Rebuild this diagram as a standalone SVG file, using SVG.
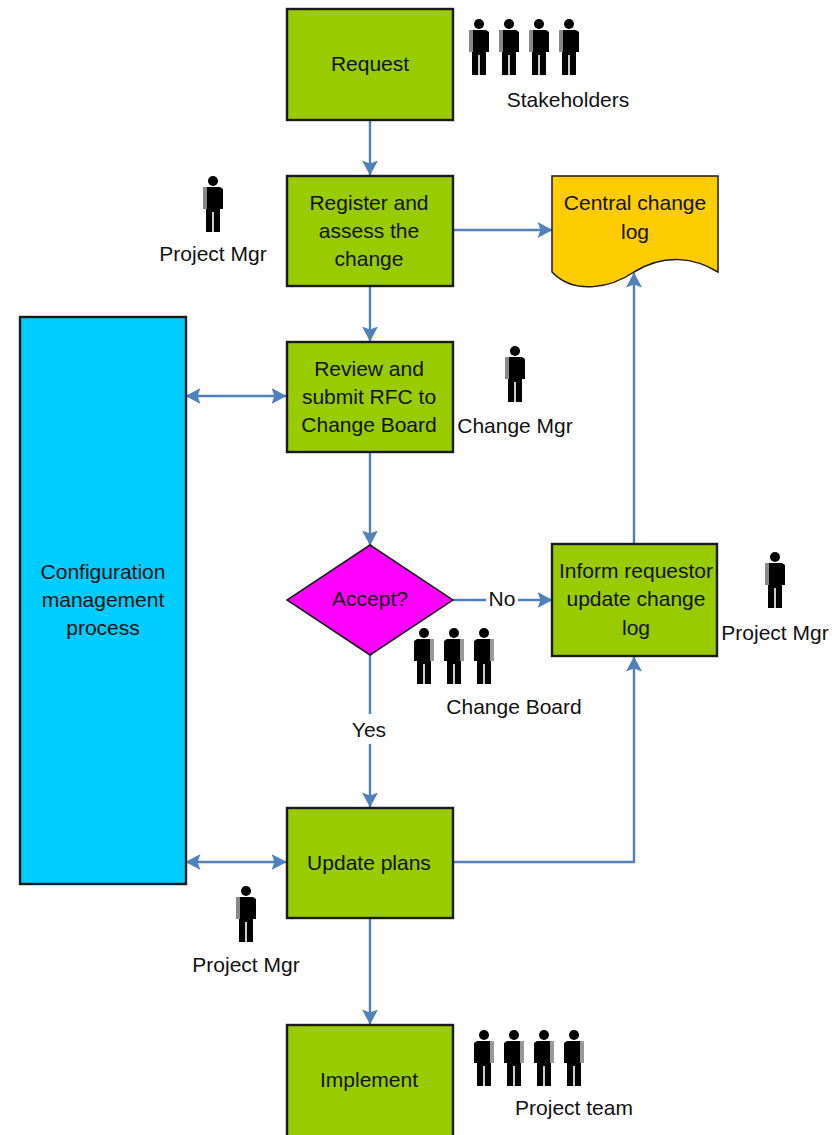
<svg xmlns="http://www.w3.org/2000/svg" width="837" height="1135" viewBox="0 0 837 1135">
<style>
text{font-family:"Liberation Sans",Arial,sans-serif;font-size:21px;fill:#111;text-anchor:middle}
.box{fill:#99cc00;stroke:#1a1a1a;stroke-width:2.4}
.cf{fill:none;stroke:#4f81bd;stroke-width:2.4}
.bg{fill:#fff}
</style>
<defs>
<marker id="arr" viewBox="0 0 15 16" refX="14.5" refY="8" markerWidth="15" markerHeight="16" markerUnits="userSpaceOnUse" orient="auto-start-reverse"><path d="M0 0L15 8L0 16L3 8Z" fill="#4f81bd"/></marker>
<g id="pR"><path d="M5 11H10V33H5Z" fill="#999"/><circle cx="0" cy="5" r="5" fill="#000"/><path d="M-10 13L-7 11H6V33H7V56H0.8V36H-0.8V56H-7V33H-10Z" fill="#000"/></g>
<g id="pL"><path d="M-10 11H-5V33H-10Z" fill="#888"/><circle cx="0" cy="5" r="5" fill="#000"/><path d="M-6 11H7L10 13V33H7V56H0.8V36H-0.8V56H-7V33H-6Z" fill="#000"/></g>
</defs>
<rect width="837" height="1135" fill="#fff"/>
<g id="connectors">
<path class="cf" d="M370 120V175" marker-end="url(#arr)"/>
<path class="cf" d="M370 286V341" marker-end="url(#arr)"/>
<path class="cf" d="M453 230H552" marker-end="url(#arr)"/>
<path class="cf" d="M186 396H286" marker-start="url(#arr)" marker-end="url(#arr)"/>
<path class="cf" d="M370 452V545" marker-end="url(#arr)"/>
<path class="cf" d="M453 600H552" marker-end="url(#arr)"/>
<path class="cf" d="M370 655V807" marker-end="url(#arr)"/>
<path class="cf" d="M634 544V273" marker-end="url(#arr)"/>
<path class="cf" d="M453 862H634V657" marker-end="url(#arr)"/>
<path class="cf" d="M186 862H286" marker-start="url(#arr)" marker-end="url(#arr)"/>
<path class="cf" d="M370 918V1024" marker-end="url(#arr)"/>
<rect class="bg" x="486" y="586" width="32" height="28"/>
<rect class="bg" x="348" y="714" width="44" height="30"/>
<text x="502" y="606">No</text>
<text x="369" y="737">Yes</text>
</g>
<g id="request"><rect class="box" x="287" y="9" width="166" height="111"/><text x="370" y="71">Request</text></g>
<g id="register"><rect class="box" x="287" y="176" width="166" height="110"/><text x="369" y="210">Register and</text><text x="369" y="238">assess the</text><text x="369" y="266">change</text></g>
<g id="log"><path d="M552 176H718V272C695 258 665 253 634 272C612 287 575 296 552 272Z" fill="#ffcc00" stroke="#1a1a1a" stroke-width="1.5"/><text x="635" y="210">Central change</text><text x="635" y="239">log</text></g>
<g id="config"><rect x="20" y="317" width="166" height="567" fill="#00ccff" stroke="#1a1a1a" stroke-width="2.4"/><text x="103" y="579">Configuration</text><text x="103" y="607">management</text><text x="103" y="635">process</text></g>
<g id="review"><rect class="box" x="287" y="342" width="166" height="110"/><text x="369" y="376">Review and</text><text x="369" y="404">submit RFC to</text><text x="369" y="432">Change Board</text></g>
<g id="accept"><path d="M370 545L453 600L370 655L287 600Z" fill="#ff00ff" stroke="#1a1a1a" stroke-width="1.5"/><text x="370" y="606">Accept?</text></g>
<g id="inform"><rect class="box" x="552" y="544" width="165" height="112"/><text x="636" y="578">Inform requestor</text><text x="636" y="606">update change</text><text x="636" y="635">log</text></g>
<g id="update"><rect class="box" x="287" y="808" width="166" height="110"/><text x="369" y="870">Update plans</text></g>
<g id="implement"><rect class="box" x="287" y="1025" width="166" height="112"/><text x="369" y="1087">Implement</text></g>
<g id="stakeholders"><use href="#pL" x="479" y="19"/><use href="#pL" x="509" y="19"/><use href="#pL" x="539" y="19"/><use href="#pL" x="569" y="19"/><text x="568" y="107">Stakeholders</text></g>
<g id="pm1"><use href="#pL" x="213" y="176"/><text x="213" y="261">Project Mgr</text></g>
<g id="cm"><use href="#pL" x="515" y="346"/><text x="515" y="433">Change Mgr</text></g>
<g id="board"><use href="#pR" x="424" y="628"/><use href="#pR" x="454" y="628"/><use href="#pR" x="484" y="628"/><text x="514" y="714">Change Board</text></g>
<g id="pm2"><use href="#pL" x="775" y="552"/><text x="775" y="640">Project Mgr</text></g>
<g id="pm3"><use href="#pL" x="246" y="886"/><text x="246" y="972">Project Mgr</text></g>
<g id="team"><use href="#pR" x="484" y="1030"/><use href="#pR" x="514" y="1030"/><use href="#pR" x="544" y="1030"/><use href="#pR" x="574" y="1030"/><text x="574" y="1115">Project team</text></g>
</svg>
